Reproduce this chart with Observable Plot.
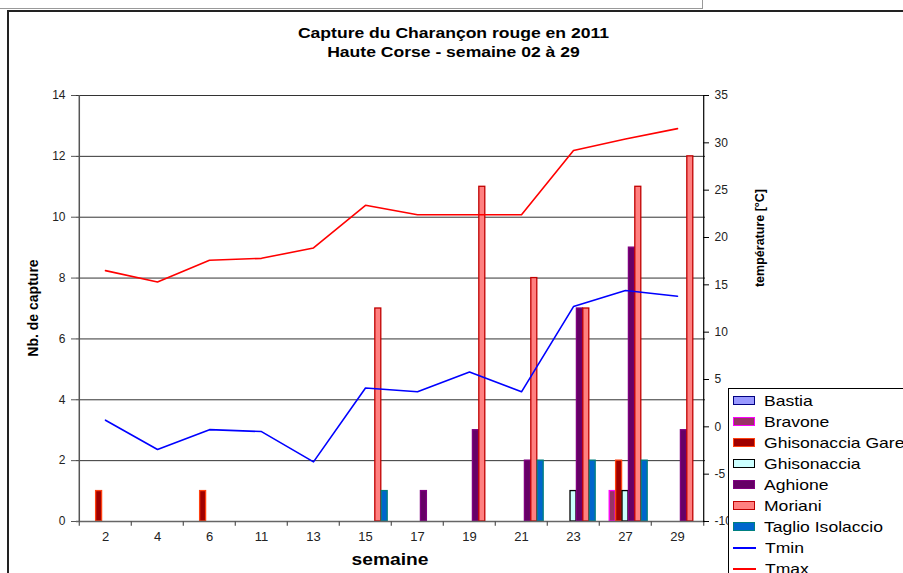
<!DOCTYPE html>
<html><head><meta charset="utf-8">
<script src="https://cdn.jsdelivr.net/npm/d3@7"></script>
<script src="https://cdn.jsdelivr.net/npm/@observablehq/plot@0.6"></script>
<style>
body{margin:0;width:903px;height:573px;overflow:hidden;position:relative;background:#fff;font-family:"Liberation Sans",Arial,sans-serif;color:#000;}
#topline{position:absolute;left:0;top:8px;width:703px;height:1px;background:#999;}
#topv{position:absolute;left:702px;top:0;width:1px;height:9px;background:#999;}
#frame{position:absolute;left:7px;top:10px;width:900px;height:570px;border-top:2px solid #222;border-left:2px solid #222;}
#chart{position:absolute;left:0;top:0;}
#title{position:absolute;left:7px;width:896px;top:23px;text-align:center;font-weight:bold;font-size:15px;line-height:19px;transform:scaleX(1.17);transform-origin:457px 0;}
.axt{position:absolute;font-weight:bold;white-space:nowrap;}
#ylab{left:33px;top:308px;font-size:14px;transform:translate(-50%,-50%) rotate(-90deg);}
#y2lab{left:760px;top:238px;font-size:12.5px;transform:translate(-50%,-50%) rotate(-90deg);}
#xlab{left:390px;top:560px;font-size:16px;transform:translate(-50%,-50%) scaleX(1.2);}
#legend{position:absolute;left:728px;top:388px;width:220px;height:220px;border:1px solid #000;background:#fff;padding-top:1px;box-sizing:border-box;}
.item{height:21px;display:flex;align-items:center;font-size:15px;white-space:nowrap;}
.item .tx{display:inline-block;transform:scaleX(1.17);transform-origin:0 50%;}
.sw{width:20px;height:7px;margin-left:4px;margin-right:9px;border:1.5px solid #000;flex:none;}
.ln{width:23px;height:2px;margin-left:4px;margin-right:9px;flex:none;}
</style>
</head><body>
<div id="topline"></div>
<div id="topv"></div>
<div id="frame"></div>
<div id="chart"></div>
<div id="title">Capture du Charançon rouge en 2011<br>Haute Corse - semaine 02 à 29</div>
<div class="axt" id="ylab">Nb. de capture</div>
<div class="axt" id="y2lab">température [°C]</div>
<div class="axt" id="xlab">semaine</div>
<div id="legend"></div>
<script>
// ---- data ----
const weeks = ["2", "4", "6", "11", "13", "15", "17", "19", "21", "23", "27", "29"];
const bastia   = [0, 0, 0, 0, 0, 0, 0, 0, 0, 0, 0, 0];
const bravone  = [0, 0, 0, 0, 0, 0, 0, 0, 0, 0, 1, 0];
const ghisGare = [1, 0, 1, 0, 0, 0, 0, 0, 0, 0, 2, 0];
const ghis     = [0, 0, 0, 0, 0, 0, 0, 0, 0, 1, 1, 0];
const aghione  = [0, 0, 0, 0, 0, 0, 1, 3, 2, 7, 9, 3];
const moriani  = [0, 0, 0, 0, 0, 7, 0, 11, 8, 7, 11, 12];
const taglio   = [0, 0, 0, 0, 0, 1, 0, 0, 2, 2, 2, 0];
const tmin = [0.7, -2.4, -0.3, -0.5, -3.7, 4.1, 3.7, 5.8, 3.7, 12.7, 14.4, 13.8];
const tmax = [16.5, 15.3, 17.6, 17.8, 18.9, 23.4, 22.4, 22.4, 22.4, 29.2, 30.4, 31.5];
const seriesNames = ["Bastia", "Bravone", "Ghisonaccia Gare", "Ghisonaccia", "Aghione", "Moriani", "Taglio Isolaccio"];
const countTicks = [0, 2, 4, 6, 8, 10, 12, 14];
const tempTicks = [35, 30, 25, 20, 15, 10, 5, 0, -5, -10];

// ---- styles ----
const seriesValues = [bastia, bravone, ghisGare, ghis, aghione, moriani, taglio];
const fills   = ["#9999ff", "#993366", "#a00000", "#ccffff", "#660066", "#ff8080", "#0066cc"];
const strokes = ["#000080", "#ff00ff", "#ff4010", "#000000", "#800080", "#c00000", "#008080"];

const W = 903, H = 573, mL = 76, mR = 198, mT = 95, mB = 52;
const tLo = -10, tHi = 35, cHi = 14;
const toCount = t => (t - tLo) * cHi / (tHi - tLo);
const toTemp = c => Math.round(c * (tHi - tLo) / cHi + tLo);
const bw = (W - mL - mR) / weeks.length;
const barW = 6.4;

const marks = [];
marks.push(Plot.ruleY(countTicks.slice(1), {stroke: "#333", strokeWidth: 1}));
seriesValues.forEach((vals, i) => {
  const data = weeks.map((w, j) => ({week: w, value: vals[j]})).filter(d => d.value > 0);
  marks.push(Plot.barY(data, {
    x: "week", y: "value", fill: fills[i], stroke: strokes[i], strokeWidth: 1.3,
    insetLeft: (bw - barW) / 2, insetRight: (bw - barW) / 2, dx: (i - 3) * barW
  }));
});
marks.push(Plot.line(weeks.map((w, j) => ({week: w, t: tmin[j]})), {x: "week", y: d => toCount(d.t), stroke: "#0000ff", strokeWidth: 1.6}));
marks.push(Plot.line(weeks.map((w, j) => ({week: w, t: tmax[j]})), {x: "week", y: d => toCount(d.t), stroke: "#ff0000", strokeWidth: 1.6}));
// axis lines
marks.push(Plot.ruleY([0], {stroke: "#666", strokeWidth: 1.5}));
marks.push(Plot.ruleX([weeks[0]], {dx: -bw / 2, stroke: "#555", strokeWidth: 1.5}));
marks.push(Plot.ruleX([weeks[weeks.length - 1]], {dx: bw / 2, stroke: "#000", strokeWidth: 1.2}));
// x tick marks between categories
marks.push(Plot.ruleX(weeks, {x: d => d, dx: -bw / 2, y1: 0, y2: -0.16, stroke: "#555", strokeWidth: 1.2}));
marks.push(Plot.ruleX([weeks[weeks.length - 1]], {dx: bw / 2, y1: 0, y2: -0.16, stroke: "#555", strokeWidth: 1.2}));
marks.push(Plot.axisX({tickSize: 0, tickPadding: 10, fontSize: 13, label: null, fill: "#222"}));
marks.push(Plot.axisY(countTicks, {anchor: "left", tickSize: 5, tickPadding: 6, fontSize: 12, label: null, fill: "#222", stroke: "#555"}));
marks.push(Plot.axisY(tempTicks.map(toCount), {anchor: "right", tickSize: 3, tickPadding: 6, fontSize: 12, label: null, tickFormat: toTemp, fill: "#222"}));
marks.push(Plot.axisY(tempTicks.map(toCount), {anchor: "right", tickSize: -3, text: null, label: null}));

const chart = Plot.plot({
  width: W, height: H,
  marginLeft: mL, marginRight: mR, marginTop: mT, marginBottom: mB,
  style: {fontFamily: "'Liberation Sans', Arial, sans-serif", background: "transparent", overflow: "visible"},
  x: {type: "band", domain: weeks, padding: 0},
  y: {domain: [0, cHi], clamp: false},
  marks
});
document.getElementById("chart").appendChild(chart);

// legend
const lg = document.getElementById("legend");
function addItem(name, swClass, bg, border) {
  const it = document.createElement("div"); it.className = "item";
  const s = document.createElement("span"); s.className = swClass;
  s.style.background = bg; if (border) s.style.borderColor = border;
  const t = document.createElement("span"); t.className = "tx"; t.textContent = name;
  it.appendChild(s); it.appendChild(t); lg.appendChild(it);
}
seriesNames.forEach((n, i) => addItem(n, "sw", fills[i], strokes[i]));
addItem("Tmin", "ln", "#0000ff");
addItem("Tmax", "ln", "#ff0000");
</script>
</body></html>
